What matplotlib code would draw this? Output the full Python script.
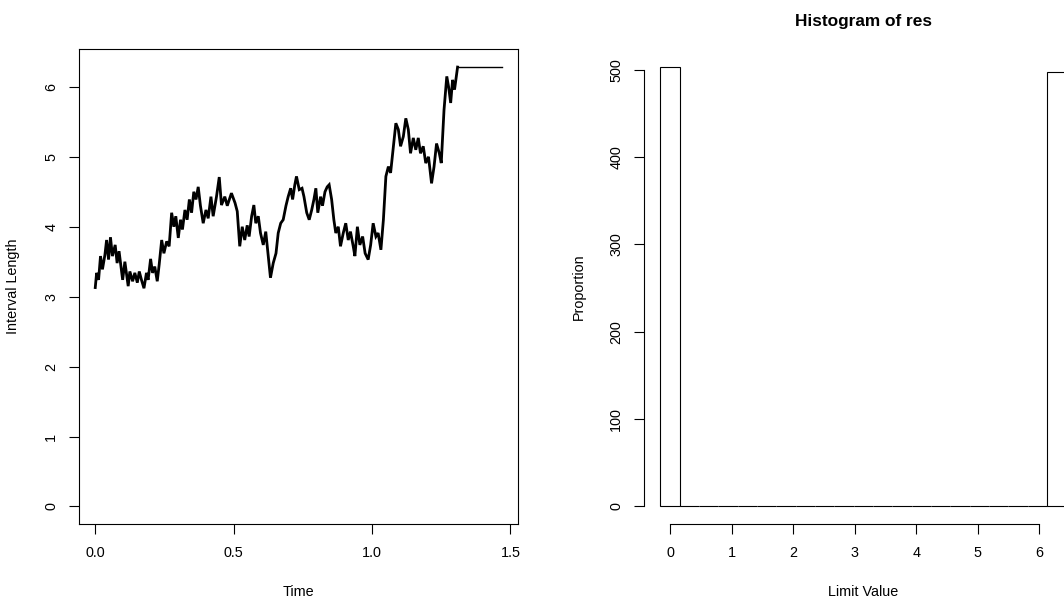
import matplotlib
matplotlib.use('Agg')
import matplotlib.pyplot as plt
import numpy as np

plt.rcParams['font.family'] = ['Liberation Sans', 'DejaVu Sans']
plt.rcParams['font.size'] = 10.4

# Interval length over time
time = [0.000, 0.005, 0.012, 0.019, 0.026, 0.035, 0.041, 0.048, 0.055, 0.062,
        0.072, 0.079, 0.086, 0.099, 0.107, 0.119, 0.125, 0.135, 0.143, 0.152,
        0.159, 0.167, 0.176, 0.185, 0.191, 0.200, 0.207, 0.215, 0.224, 0.231,
        0.240, 0.248, 0.258, 0.267, 0.276, 0.284, 0.291, 0.300, 0.308, 0.315,
        0.324, 0.332, 0.340, 0.348, 0.356, 0.364, 0.372, 0.380, 0.390, 0.400,
        0.408, 0.418, 0.426, 0.438, 0.448, 0.456, 0.468, 0.477, 0.492, 0.505,
        0.513, 0.522, 0.531, 0.540, 0.549, 0.556, 0.565, 0.573, 0.580, 0.589,
        0.597, 0.607, 0.616, 0.625, 0.633, 0.643, 0.653, 0.661, 0.670, 0.679,
        0.689, 0.697, 0.706, 0.713, 0.721, 0.727, 0.737, 0.747, 0.754, 0.764,
        0.773, 0.782, 0.790, 0.797, 0.804, 0.814, 0.821, 0.830, 0.838, 0.845,
        0.854, 0.862, 0.869, 0.878, 0.886, 0.896, 0.905, 0.914, 0.922, 0.932,
        0.938, 0.947, 0.956, 0.966, 0.975, 0.986, 0.995, 1.004, 1.014, 1.022,
        1.032, 1.041, 1.050, 1.059, 1.067, 1.077, 1.086, 1.095, 1.103, 1.113,
        1.122, 1.131, 1.139, 1.149, 1.158, 1.167, 1.175, 1.185, 1.194, 1.204,
        1.215, 1.224, 1.233, 1.243, 1.250, 1.260, 1.270, 1.277, 1.284, 1.291,
        1.298, 1.309, 1.468]
length = [3.13, 3.34, 3.24, 3.58, 3.39, 3.60, 3.81, 3.53, 3.85, 3.58,
          3.74, 3.48, 3.65, 3.24, 3.50, 3.15, 3.36, 3.22, 3.34, 3.20,
          3.36, 3.24, 3.12, 3.34, 3.24, 3.54, 3.34, 3.43, 3.22, 3.46,
          3.81, 3.62, 3.79, 3.72, 4.20, 4.00, 4.15, 3.84, 4.10, 3.96,
          4.24, 4.10, 4.39, 4.20, 4.50, 4.39, 4.57, 4.30, 4.05, 4.24,
          4.12, 4.43, 4.15, 4.43, 4.71, 4.31, 4.43, 4.30, 4.48, 4.34,
          4.22, 3.72, 4.00, 3.81, 4.02, 3.86, 4.15, 4.31, 4.05, 4.15,
          3.91, 3.74, 3.93, 3.58, 3.27, 3.48, 3.62, 3.91, 4.05, 4.10,
          4.30, 4.43, 4.55, 4.39, 4.60, 4.72, 4.53, 4.55, 4.43, 4.20,
          4.10, 4.24, 4.39, 4.55, 4.20, 4.43, 4.30, 4.50, 4.57, 4.60,
          4.39, 4.10, 3.91, 4.00, 3.72, 3.91, 4.05, 3.81, 3.93, 3.72,
          3.58, 4.00, 3.74, 3.86, 3.62, 3.53, 3.74, 4.05, 3.86, 3.91,
          3.67, 4.10, 4.72, 4.86, 4.77, 5.15, 5.48, 5.39, 5.15, 5.29,
          5.55, 5.39, 5.05, 5.27, 5.10, 5.27, 5.05, 5.15, 4.91, 5.00,
          4.62, 4.86, 5.19, 5.05, 4.91, 5.67, 6.15, 5.99, 5.77, 6.10,
          5.96, 6.283, 6.283]

# Histogram of limit values (bins of width pi/10 centred on multiples of pi/10)
counts = [503, 0, 0, 0, 0, 0, 0, 0, 0, 0, 0, 0, 0, 0, 0, 0, 0, 0, 0, 0, 497]

fig = plt.figure(figsize=(10.64, 6.02), dpi=100)

tick_kw = dict(direction='out', length=7, width=0.8, color='black')

# Left panel: trajectory
ax1 = fig.add_axes([0.07425, 0.12957, 0.41231, 0.78821])
k = len(time) - 1
ax1.plot(time[:k], length[:k], color='black', lw=2.0, solid_joinstyle='miter')
ax1.plot(time[k - 1:], length[k - 1:], color='black', lw=1.0)
ax1.set_xlim(-0.0587, 1.5262)
ax1.set_ylim(-0.2513, 6.5345)
ax1.set_xticks([0, 0.5, 1.0, 1.5])
ax1.set_xticklabels(['0.0', '0.5', '1.0', '1.5'])
ax1.set_yticks(range(7))
ax1.set_yticklabels([str(i) for i in range(7)], rotation=90, va='center')
ax1.tick_params(axis='x', pad=9, **tick_kw)
ax1.tick_params(axis='y', pad=8, **tick_kw)
for s in ax1.spines.values():
    s.set_linewidth(0.8)
ax1.set_xlabel('Time')
ax1.set_ylabel('Interval Length')
ax1.xaxis.set_label_coords(0.5, -0.1433)
ax1.xaxis.label.set_va('center')
ax1.yaxis.set_label_coords(-0.1498, 0.5)
ax1.yaxis.label.set_va('center')

# Right panel: histogram
ax2 = fig.add_axes([0.60545, 0.12957, 0.41203, 0.78821])
width = np.pi / 10
edges = -width / 2 + width * np.arange(len(counts) + 1)
ax2.bar(edges[:-1], counts, width=width, align='edge', color='white',
        edgecolor='black', linewidth=0.8)
ax2.set_xlim(-0.42097, 6.70415)
ax2.set_ylim(-20.12, 523.12)
ax2.set_xticks(range(7))
ax2.set_yticks(range(0, 501, 100))
ax2.set_yticklabels([str(v) for v in range(0, 501, 100)], rotation=90, va='center')
ax2.tick_params(axis='x', pad=9, **tick_kw)
ax2.tick_params(axis='y', pad=8, **tick_kw)
ax2.spines['top'].set_visible(False)
ax2.spines['right'].set_visible(False)
ax2.spines['left'].set_bounds(0, 500)
ax2.spines['bottom'].set_bounds(0, 6)
ax2.spines['left'].set_linewidth(0.8)
ax2.spines['bottom'].set_linewidth(0.8)
ax2.set_xlabel('Limit Value')
ax2.set_ylabel('Proportion')
ax2.xaxis.set_label_coords(0.5, -0.1433)
ax2.xaxis.label.set_va('center')
ax2.yaxis.set_label_coords(-0.1487, 0.5)
ax2.yaxis.label.set_va('center')
ax2.set_title('Histogram of res', fontweight='bold', fontsize=12.4, y=1.041, va='center')

fig.savefig('out.png', dpi=100)
